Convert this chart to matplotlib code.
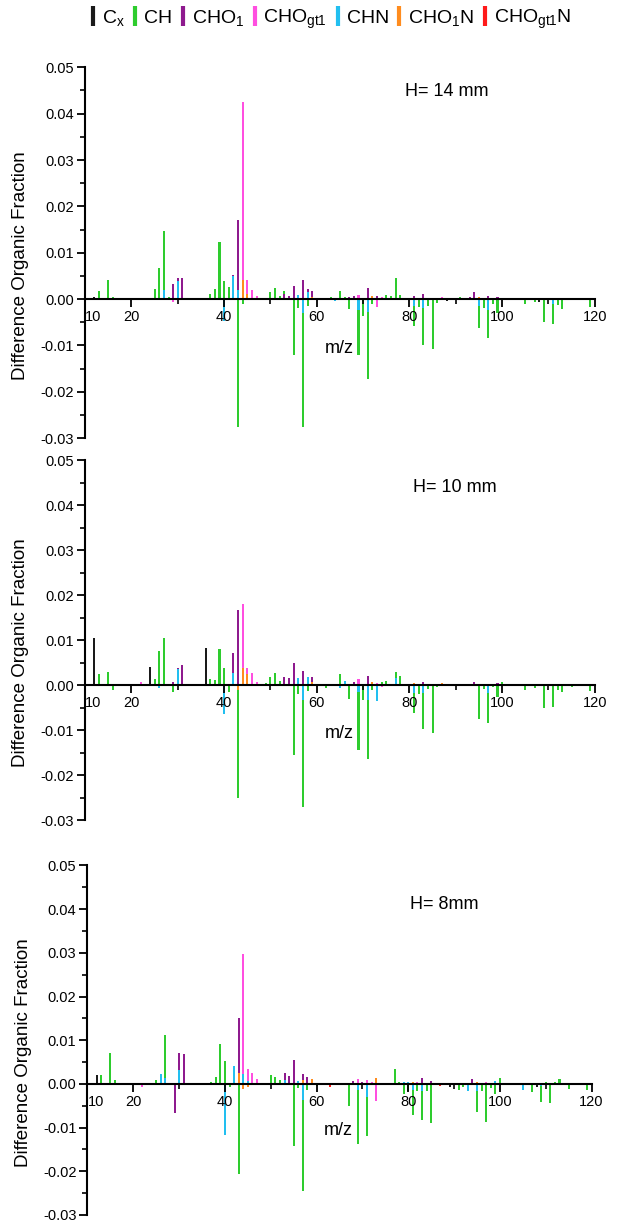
import matplotlib
matplotlib.use('Agg')
import matplotlib.pyplot as plt
from matplotlib.lines import Line2D
from matplotlib.ticker import MultipleLocator, FixedLocator, FuncFormatter

plt.rcParams['font.family'] = ['Liberation Sans', 'DejaVu Sans']
plt.rcParams['mathtext.fontset'] = 'custom'
plt.rcParams['mathtext.rm'] = 'Liberation Sans'
plt.rcParams['mathtext.default'] = 'regular'

categories = [r'C$_x$', 'CH', r'CHO$_1$', r'CHO$_{gt1}$', 'CHN', r'CHO$_1$N', r'CHO$_{gt1}$N']
colors = ['#1a1a1a', '#2ecc2e', '#8e1a8e', '#ff4fe0', '#22bff0', '#ff8c1e', '#ff1a1a']

# (m/z, difference fraction) pairs per family, H = 14 mm
h14_cx = [(12, 0.0004), (48, 0.0002), (70, -0.0006), (88, -0.0003), (108, -0.0006)]
h14_ch = [(13, 0.0017), (15, 0.0042), (16, 0.0004), (25, 0.0022), (26, 0.0067), (27, 0.0147),
          (28, 0.0004), (36, 0.0002), (37, 0.0012), (38, 0.0022), (39, 0.0123), (40, 0.0038),
          (41, 0.0027), (43, -0.0275), (44, -0.0011), (50, 0.0015), (51, 0.0025), (52, 0.0007),
          (53, 0.0018), (55, -0.0121), (56, -0.0020), (57, -0.0275), (58, -0.0015), (62, 0.0003),
          (63, 0.0004), (65, 0.0018), (66, 0.0004), (67, -0.0021), (69, -0.0121), (70, -0.0036),
          (71, -0.0173), (72, -0.0011), (75, 0.0008), (76, 0.0006), (77, 0.0046), (78, 0.0009),
          (81, -0.0057), (82, -0.0018), (83, -0.0099), (84, -0.0014), (85, -0.0107), (86, -0.0009),
          (91, 0.0004), (95, -0.0062), (96, -0.0020), (97, -0.0083), (98, -0.0011), (99, -0.0030),
          (105, -0.0011), (107, -0.0006), (109, -0.0049), (111, -0.0054), (112, -0.0012),
          (113, -0.0022), (119, -0.0016)]
h14_cho1 = [(29, 0.0033), (30, 0.0045), (31, 0.0045), (42, 0.0052), (43, 0.0170), (45, 0.0015),
            (53, 0.0012), (54, 0.0007), (55, 0.0029), (57, 0.0042), (58, 0.0022), (59, 0.0018),
            (67, 0.0004), (68, 0.0006), (71, 0.0025), (73, 0.0007), (81, 0.0006), (83, 0.0012),
            (93, 0.0005), (94, 0.0015), (97, 0.0006), (99, 0.0005), (104, 0.0002)]
h14_chogt1 = [(22, 0.0001), (29, -0.0007), (44, 0.0425), (45, 0.0041), (46, 0.0020), (47, 0.0007),
              (60, 0.0002), (69, 0.0008), (73, -0.0016), (74, 0.0004), (87, 0.0005), (101, 0.0003),
              (109, 0.0003)]
h14_chn = [(27, 0.0020), (30, 0.0038), (40, -0.0047), (42, 0.0050), (43, 0.0020), (56, 0.0008),
           (57, -0.0030), (58, 0.0016), (64, -0.0003), (69, -0.0023), (71, -0.0027), (81, -0.0014),
           (83, -0.0020), (95, -0.0015), (97, -0.0023), (111, -0.0010)]
h14_cho1n = [(44, 0.0041), (45, 0.0012), (59, 0.0005), (72, 0.0006), (86, 0.0003), (95, 0.0004),
             (111, 0.0003)]
h14_chogt1n = [(61, 0.0002), (74, 0.0002), (90, 0.0002)]

# H = 10 mm
h10_cx = [(12, 0.0104), (24, 0.0041), (36, 0.0082), (48, 0.0003), (70, -0.0005)]
h10_ch = [(13, 0.0024), (15, 0.0030), (16, -0.0011), (25, 0.0013), (26, 0.0076), (27, 0.0104),
          (28, 0.0002), (29, -0.0015), (37, 0.0013), (38, 0.0011), (39, 0.0080), (40, 0.0039),
          (41, -0.0015), (43, -0.0250), (49, 0.0004), (50, 0.0018), (51, 0.0026), (52, 0.0010),
          (55, -0.0156), (56, -0.0020), (57, -0.0272), (58, -0.0013), (62, -0.0006), (65, 0.0024),
          (67, -0.0030), (69, -0.0144), (70, -0.0032), (71, -0.0165), (72, -0.0011), (74, 0.0007),
          (75, 0.0010), (77, 0.0029), (78, 0.0021), (81, -0.0061), (82, -0.0019), (83, -0.0097),
          (84, -0.0009), (85, -0.0106), (86, -0.0005), (95, -0.0075), (96, -0.0009), (97, -0.0084),
          (98, -0.0005), (99, -0.0027), (100, 0.0007), (105, -0.0010), (107, -0.0006),
          (109, -0.0050), (111, -0.0048), (112, -0.0010), (113, -0.0016), (115, -0.0005),
          (119, -0.0013)]
h10_cho1 = [(29, 0.0006), (30, 0.0038), (31, 0.0044), (42, 0.0072), (43, 0.0168), (45, 0.0020),
            (53, 0.0017), (54, 0.0015), (55, 0.0050), (57, 0.0032), (59, 0.0019), (61, 0.0003),
            (68, 0.0007), (71, 0.0020), (83, 0.0007), (94, 0.0008), (99, 0.0004)]
h10_chogt1 = [(22, 0.0007), (44, 0.0180), (45, 0.0039), (46, 0.0026), (47, 0.0008), (69, 0.0013),
              (73, 0.0004), (74, -0.0005)]
h10_chn = [(26, -0.0007), (30, 0.0035), (40, -0.0064), (42, 0.0026), (46, -0.0003), (56, 0.0015),
           (57, -0.0033), (58, 0.0017), (65, -0.0007), (66, 0.0009), (69, -0.0015), (71, -0.0033),
           (73, -0.0036), (77, 0.0015), (81, -0.0018), (83, -0.0017), (97, -0.0017)]
h10_cho1n = [(43, -0.0010), (44, 0.0039), (45, 0.0024), (59, 0.0007), (72, 0.0007), (81, 0.0005),
             (87, 0.0004), (103, 0.0003)]
h10_chogt1n = [(61, 0.0003), (63, 0.0002), (85, 0.0002)]

# H = 8 mm
h8_cx = [(12, 0.0021), (48, 0.0002), (70, 0.0004), (89, -0.0006), (108, -0.0008)]
h8_ch = [(13, 0.0020), (15, 0.0070), (16, 0.0008), (25, 0.0010), (27, 0.0111), (28, 0.0003),
         (37, 0.0004), (38, 0.0015), (39, 0.0092), (40, 0.0052), (41, -0.0008), (43, -0.0206),
         (50, 0.0021), (51, 0.0016), (52, 0.0009), (55, -0.0142), (56, -0.0010), (57, -0.0245),
         (58, -0.0013), (60, -0.0005), (67, -0.0050), (69, -0.0137), (71, -0.0120), (74, -0.0003),
         (75, 0.0003), (77, 0.0034), (78, 0.0005), (79, -0.0023), (80, -0.0017), (81, -0.0072),
         (82, -0.0017), (83, -0.0082), (84, -0.0016), (85, -0.0090), (91, -0.0014), (92, -0.0008),
         (95, -0.0064), (96, -0.0016), (97, -0.0088), (98, -0.0010), (99, -0.0023), (100, 0.0013),
         (107, -0.0019), (109, -0.0042), (110, 0.0005), (111, -0.0044), (112, 0.0004),
         (113, 0.0011), (115, -0.0012), (119, -0.0014)]
h8_cho1 = [(29, -0.0067), (30, 0.0071), (31, 0.0068), (43, 0.0152), (53, 0.0026), (54, 0.0018),
           (55, 0.0055), (57, 0.0023), (58, 0.0015), (68, 0.0007), (70, 0.0005), (81, 0.0004),
           (83, 0.0013), (85, 0.0007), (94, 0.0011)]
h8_chogt1 = [(22, -0.0008), (44, 0.0298), (45, 0.0033), (46, 0.0025), (47, 0.0011), (69, 0.0011),
             (71, 0.0009), (72, 0.0005), (73, -0.0039), (82, 0.0004), (97, 0.0005), (105, 0.0003)]
h8_chn = [(26, 0.0023), (27, 0.0014), (30, 0.0031), (40, -0.0117), (42, 0.0041), (44, 0.0023),
          (45, 0.0006), (53, 0.0010), (56, 0.0006), (57, -0.0036), (69, -0.0014), (71, -0.0029),
          (79, 0.0004), (80, 0.0004), (81, -0.0014), (83, -0.0017), (93, -0.0017), (95, -0.0017),
          (99, 0.0007), (105, -0.0014), (109, -0.0005)]
h8_cho1n = [(43, 0.0025), (44, -0.0011), (45, -0.0008), (57, 0.0008), (59, 0.0011), (73, 0.0014),
            (81, 0.0004), (95, 0.0004)]
h8_chogt1n = [(61, 0.0003), (63, -0.0006), (67, 0.0002), (87, -0.0005)]

panels = [
    ('H= 14 mm', (79, 0.0448), [h14_cx, h14_ch, h14_cho1, h14_chogt1, h14_chn, h14_cho1n, h14_chogt1n]),
    ('H= 10 mm', (80.7, 0.0440), [h10_cx, h10_ch, h10_cho1, h10_chogt1, h10_chn, h10_cho1n, h10_chogt1n]),
    ('H= 8mm', (80.4, 0.0411), [h8_cx, h8_ch, h8_cho1, h8_chogt1, h8_chn, h8_cho1n, h8_chogt1n]),
]
boxes = [[0.138, 0.642, 0.826, 0.303],
         [0.138, 0.330, 0.826, 0.294],
         [0.1418, 0.0074, 0.817, 0.2855]]

fig = plt.figure(figsize=(6.17, 12.24), dpi=100)

for (title, tpos, series), box in zip(panels, boxes):
    ax = fig.add_axes(box)
    for s, c in zip(series, colors):
        ax.bar([p[0] for p in s], [p[1] for p in s], width=0.44, color=c, linewidth=0,
               antialiased=False)
    ax.set_xlim(10, 120)
    ax.set_ylim(-0.03, 0.05)
    ax.spines['top'].set_visible(False)
    ax.spines['right'].set_visible(False)
    ax.spines['bottom'].set_position(('data', 0))
    ax.spines['left'].set_linewidth(1.5)
    ax.spines['bottom'].set_linewidth(1.5)
    ax.set_xticks([10, 20, 40, 60, 80, 100, 120], labels=['10', '20', '40', '60', '80', '100', '120'])
    ax.xaxis.set_minor_locator(FixedLocator([30, 50, 70, 90, 110]))
    ax.yaxis.set_major_locator(MultipleLocator(0.01))
    ax.yaxis.set_minor_locator(MultipleLocator(0.005))
    ax.yaxis.set_major_formatter(FuncFormatter(lambda v, p: '%.2f' % (round(v, 3) + 0.0)))
    ax.tick_params(which='major', direction='out', length=6, width=1.3, labelsize=10.5, pad=2)
    ax.tick_params(which='minor', direction='out', length=3.5, width=1.2)
    for lbl in ax.get_xticklabels():
        if lbl.get_text() == '10':
            lbl.set_ha('left')
    ax.text(64.8, -0.0107, 'm/z', ha='center', va='center', fontsize=13)
    ax.text(tpos[0], tpos[1], title, ha='left', va='center', fontsize=13)
    ax.set_ylabel('Difference Organic Fraction', fontsize=13.5)
    ax.yaxis.set_label_coords(-0.110, 0.464)

handles = [Line2D([], [], color=c, marker='|', linestyle='None', markersize=15, markeredgewidth=3)
           for c in colors]
fig.legend(handles, categories, loc='center', bbox_to_anchor=(0.535, 0.984), ncol=7, frameon=False,
           fontsize=14, handlelength=0.4, handletextpad=0.25, columnspacing=0.35)

fig.savefig('out.png', dpi=100)
